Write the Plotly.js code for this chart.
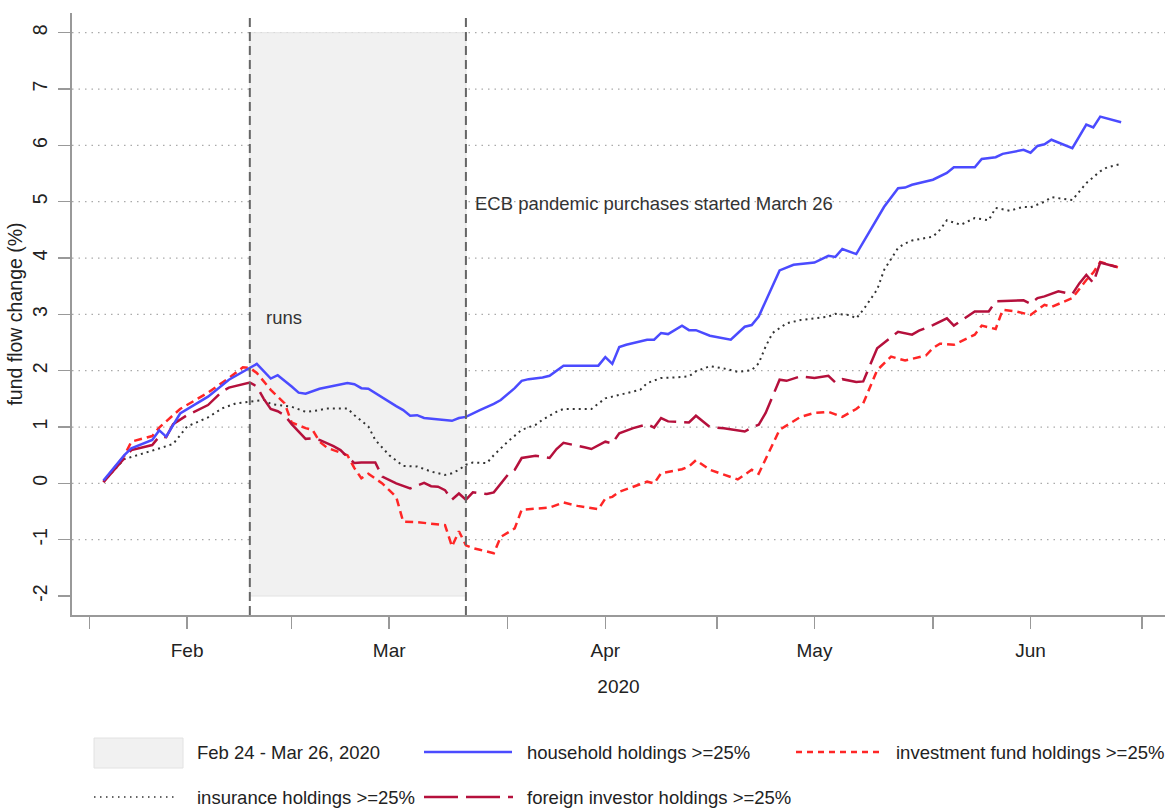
<!DOCTYPE html>
<html>
<head>
<meta charset="utf-8">
<script src="https://cdn.plot.ly/plotly-3.0.1.min.js"></script>
<style>html,body{margin:0;padding:0;background:#fff;}#chart{width:1170px;height:809px;}</style>
</head>
<body>
<div id="chart"></div>
<script>
// ---------------- data ----------------
const householdDates = ["2020-02-03","2020-02-06","2020-02-07","2020-02-10","2020-02-11","2020-02-12","2020-02-14","2020-02-18","2020-02-21","2020-02-24","2020-02-25","2020-02-27","2020-02-28","2020-03-01","2020-03-02","2020-03-03","2020-03-05","2020-03-09","2020-03-10","2020-03-11","2020-03-12","2020-03-16","2020-03-17","2020-03-18","2020-03-19","2020-03-20","2020-03-24","2020-03-25","2020-03-26","2020-03-28","2020-03-30","2020-03-31","2020-04-02","2020-04-03","2020-04-04","2020-04-06","2020-04-07","2020-04-09","2020-04-11","2020-04-14","2020-04-15","2020-04-16","2020-04-17","2020-04-18","2020-04-21","2020-04-22","2020-04-23","2020-04-24","2020-04-26","2020-04-27","2020-04-28","2020-04-30","2020-05-03","2020-05-05","2020-05-06","2020-05-07","2020-05-10","2020-05-12","2020-05-15","2020-05-17","2020-05-18","2020-05-19","2020-05-21","2020-05-25","2020-05-27","2020-05-28","2020-05-29","2020-05-31","2020-06-01","2020-06-03","2020-06-04","2020-06-07","2020-06-08","2020-06-10","2020-06-11","2020-06-14","2020-06-15","2020-06-16","2020-06-17","2020-06-18","2020-06-21","2020-06-23","2020-06-24","2020-06-25","2020-06-28"];
const householdValues = [0.05,0.50,0.62,0.77,0.94,0.83,1.24,1.54,1.84,2.04,2.12,1.86,1.92,1.72,1.61,1.59,1.68,1.78,1.76,1.69,1.68,1.37,1.30,1.20,1.21,1.16,1.11,1.16,1.18,1.30,1.41,1.48,1.69,1.82,1.85,1.88,1.91,2.09,2.09,2.09,2.24,2.12,2.42,2.46,2.55,2.55,2.67,2.65,2.80,2.72,2.72,2.62,2.55,2.78,2.81,2.96,3.78,3.88,3.92,4.04,4.02,4.16,4.07,4.91,5.24,5.25,5.30,5.36,5.39,5.51,5.61,5.61,5.76,5.79,5.85,5.92,5.87,5.99,6.02,6.10,5.95,6.37,6.32,6.51,6.41];

const fundDates = ["2020-02-03","2020-02-06","2020-02-07","2020-02-10","2020-02-11","2020-02-12","2020-02-14","2020-02-18","2020-02-21","2020-02-23","2020-02-24","2020-02-25","2020-02-27","2020-02-29","2020-03-01","2020-03-03","2020-03-04","2020-03-05","2020-03-06","2020-03-07","2020-03-09","2020-03-10","2020-03-11","2020-03-12","2020-03-14","2020-03-16","2020-03-17","2020-03-19","2020-03-21","2020-03-23","2020-03-24","2020-03-25","2020-03-26","2020-03-27","2020-03-28","2020-03-30","2020-03-31","2020-04-02","2020-04-03","2020-04-07","2020-04-09","2020-04-11","2020-04-14","2020-04-15","2020-04-16","2020-04-17","2020-04-21","2020-04-22","2020-04-23","2020-04-26","2020-04-27","2020-04-28","2020-04-30","2020-05-02","2020-05-04","2020-05-06","2020-05-07","2020-05-10","2020-05-13","2020-05-15","2020-05-17","2020-05-19","2020-05-21","2020-05-22","2020-05-24","2020-05-26","2020-05-28","2020-05-31","2020-06-01","2020-06-02","2020-06-04","2020-06-07","2020-06-08","2020-06-10","2020-06-11","2020-06-13","2020-06-15","2020-06-17","2020-06-18","2020-06-21","2020-06-23","2020-06-24","2020-06-25","2020-06-28"];
const fundValues = [0.03,0.49,0.74,0.84,0.99,1.10,1.32,1.61,1.87,2.06,2.05,1.96,1.66,1.42,1.08,0.98,0.95,0.74,0.64,0.59,0.50,0.27,0.09,0.17,0.00,-0.24,-0.68,-0.69,-0.71,-0.74,-1.12,-0.85,-1.10,-1.15,-1.18,-1.24,-0.95,-0.80,-0.47,-0.43,-0.34,-0.40,-0.46,-0.27,-0.24,-0.15,0.03,0.00,0.18,0.25,0.30,0.41,0.24,0.15,0.07,0.24,0.17,0.95,1.18,1.25,1.27,1.18,1.32,1.42,2.01,2.25,2.18,2.27,2.40,2.48,2.46,2.64,2.80,2.74,3.08,3.05,2.99,3.17,3.13,3.29,3.61,3.74,3.93,3.82];

const foreignDates = ["2020-02-03","2020-02-07","2020-02-10","2020-02-11","2020-02-12","2020-02-13","2020-02-15","2020-02-18","2020-02-20","2020-02-21","2020-02-24","2020-02-25","2020-02-26","2020-02-27","2020-02-28","2020-02-29","2020-03-01","2020-03-03","2020-03-04","2020-03-05","2020-03-07","2020-03-08","2020-03-09","2020-03-10","2020-03-11","2020-03-13","2020-03-14","2020-03-16","2020-03-18","2020-03-20","2020-03-21","2020-03-22","2020-03-23","2020-03-24","2020-03-25","2020-03-26","2020-03-27","2020-03-29","2020-03-30","2020-04-01","2020-04-02","2020-04-03","2020-04-05","2020-04-07","2020-04-08","2020-04-09","2020-04-12","2020-04-13","2020-04-15","2020-04-16","2020-04-17","2020-04-19","2020-04-21","2020-04-22","2020-04-23","2020-04-24","2020-04-27","2020-04-28","2020-04-30","2020-05-02","2020-05-05","2020-05-06","2020-05-07","2020-05-08","2020-05-10","2020-05-11","2020-05-13","2020-05-15","2020-05-17","2020-05-18","2020-05-19","2020-05-21","2020-05-22","2020-05-24","2020-05-27","2020-05-29","2020-05-30","2020-06-01","2020-06-03","2020-06-04","2020-06-07","2020-06-09","2020-06-10","2020-06-12","2020-06-14","2020-06-15","2020-06-16","2020-06-17","2020-06-19","2020-06-21","2020-06-22","2020-06-23","2020-06-24","2020-06-25","2020-06-28"];
const foreignValues = [0.02,0.59,0.68,0.83,0.82,1.05,1.21,1.39,1.63,1.70,1.79,1.72,1.50,1.32,1.28,1.21,1.05,0.79,0.80,0.77,0.66,0.59,0.47,0.36,0.37,0.37,0.12,0.00,-0.09,0.01,-0.05,-0.06,-0.12,-0.29,-0.18,-0.29,-0.16,-0.19,-0.16,0.15,0.24,0.45,0.49,0.45,0.61,0.72,0.64,0.61,0.74,0.71,0.89,0.98,1.05,0.99,1.16,1.10,1.08,1.20,1.00,0.98,0.92,0.99,1.04,1.25,1.84,1.82,1.90,1.87,1.91,1.79,1.85,1.80,1.81,2.40,2.69,2.64,2.71,2.81,2.93,2.80,3.05,3.05,3.23,3.24,3.25,3.19,3.29,3.32,3.41,3.36,3.55,3.70,3.56,3.92,3.82];

const insuranceDates = ["2020-02-03","2020-02-06","2020-02-10","2020-02-13","2020-02-15","2020-02-18","2020-02-20","2020-02-22","2020-02-24","2020-02-26","2020-02-27","2020-03-01","2020-03-03","2020-03-05","2020-03-06","2020-03-09","2020-03-10","2020-03-12","2020-03-13","2020-03-15","2020-03-17","2020-03-19","2020-03-21","2020-03-23","2020-03-24","2020-03-25","2020-03-26","2020-03-27","2020-03-29","2020-03-30","2020-04-01","2020-04-03","2020-04-05","2020-04-06","2020-04-08","2020-04-09","2020-04-13","2020-04-15","2020-04-16","2020-04-18","2020-04-20","2020-04-21","2020-04-23","2020-04-25","2020-04-27","2020-04-28","2020-04-30","2020-05-02","2020-05-04","2020-05-06","2020-05-07","2020-05-08","2020-05-09","2020-05-11","2020-05-13","2020-05-15","2020-05-17","2020-05-18","2020-05-20","2020-05-21","2020-05-22","2020-05-24","2020-05-25","2020-05-27","2020-05-28","2020-05-29","2020-06-01","2020-06-02","2020-06-03","2020-06-05","2020-06-07","2020-06-09","2020-06-10","2020-06-12","2020-06-14","2020-06-15","2020-06-17","2020-06-18","2020-06-19","2020-06-21","2020-06-22","2020-06-23","2020-06-25","2020-06-26","2020-06-28"];
const insuranceValues = [0.03,0.43,0.58,0.70,1.01,1.17,1.33,1.42,1.45,1.48,1.41,1.36,1.27,1.30,1.33,1.33,1.21,1.01,0.77,0.50,0.31,0.30,0.21,0.15,0.18,0.24,0.33,0.37,0.36,0.50,0.74,0.95,1.04,1.13,1.27,1.32,1.32,1.51,1.54,1.60,1.66,1.78,1.87,1.88,1.90,1.99,2.08,2.04,1.98,2.01,2.13,2.43,2.67,2.84,2.90,2.93,2.96,3.01,2.99,2.93,3.08,3.44,3.79,4.18,4.26,4.31,4.38,4.50,4.67,4.59,4.71,4.67,4.89,4.84,4.91,4.90,5.00,5.08,5.06,5.03,5.18,5.33,5.54,5.61,5.67];

const periodStart = "2020-02-24";
const periodEnd = "2020-03-26";
const periodLow = -2;
const periodHigh = 8;

const xTickVals = ["2020-02-01","2020-02-15","2020-03-01","2020-03-15","2020-04-01","2020-04-15","2020-05-01","2020-05-15","2020-06-01","2020-06-15","2020-07-01"];
const xTickText = ["","Feb","","Mar","","Apr","","May","","Jun",""];
const yTickVals = [-2,-1,0,1,2,3,4,5,6,7,8];
const yTickText = ["-2","-1","0","1","2","3","4","5","6","7","8"];
const yGridVals = [-1,0,1,2,3,4,5,6,7,8];

const legendLabels = ["Feb 24 - Mar 26, 2020","household holdings >=25%","investment fund holdings >=25%","insurance holdings >=25%","foreign investor holdings >=25%"];

// ---------------- styling ----------------
const FONT = '"Liberation Sans", Arial, sans-serif';
const FS = 18.5;
const TXT = '#222';
const AX = '#999';
const C_HOUSE = '#4b4bff';
const C_FUND = '#ff2626';
const C_FOREIGN = '#b5103c';
const C_INS = '#333333';
const D_FUND = '8px,5px';
const D_FOREIGN = '32px,8px';
const D_INS = '2px,4px';

const W = 1170, H = 809;
const M = {l: 72, r: 5, t: 13, b: 194};
const pw = W - M.l - M.r, ph = H - M.t - M.b;
const px = x => (x - M.l) / pw;
const py = y => (M.t + ph - y) / ph;

const traces = [
  {x: insuranceDates, y: insuranceValues, type: 'scatter', mode: 'lines', name: legendLabels[3],
   line: {color: C_INS, width: 2, dash: D_INS}},
  {x: fundDates, y: fundValues, type: 'scatter', mode: 'lines', name: legendLabels[2],
   line: {color: C_FUND, width: 2.5, dash: D_FUND}},
  {x: foreignDates, y: foreignValues, type: 'scatter', mode: 'lines', name: legendLabels[4],
   line: {color: C_FOREIGN, width: 2.5, dash: D_FOREIGN}},
  {x: householdDates, y: householdValues, type: 'scatter', mode: 'lines', name: legendLabels[1],
   line: {color: C_HOUSE, width: 2.5}}
];

const shapes = [];
// shaded period
shapes.push({type: 'rect', xref: 'x', yref: 'y', x0: periodStart, x1: periodEnd, y0: periodLow, y1: periodHigh,
  fillcolor: '#f1f1f1', line: {color: '#e2e2e2', width: 1}, layer: 'below'});
// dotted grid
yGridVals.forEach(v => shapes.push({type: 'line', xref: 'paper', yref: 'y', x0: 0, x1: 1, y0: v, y1: v,
  line: {color: '#aaaaaa', width: 1.2, dash: '1.5px,5px'}, layer: 'below'}));
// vertical event lines
[periodStart, periodEnd].forEach(d => shapes.push({type: 'line', xref: 'x', yref: 'paper', x0: d, x1: d, y0: 0, y1: 1,
  line: {color: '#666', width: 2, dash: '9px,5px'}, layer: 'above'}));

// manual legend
const row1 = 752, row2 = 797;
shapes.push({type: 'rect', xref: 'paper', yref: 'paper', x0: px(94), x1: px(183), y0: py(768), y1: py(738),
  fillcolor: '#f1f1f1', line: {color: '#e2e2e2', width: 1}});
shapes.push({type: 'line', xref: 'paper', yref: 'paper', x0: px(424), x1: px(512), y0: py(row1), y1: py(row1),
  line: {color: C_HOUSE, width: 2.5}});
shapes.push({type: 'line', xref: 'paper', yref: 'paper', x0: px(796), x1: px(884), y0: py(row1), y1: py(row1),
  line: {color: C_FUND, width: 2.5, dash: '6px,5px'}});
shapes.push({type: 'line', xref: 'paper', yref: 'paper', x0: px(94), x1: px(176), y0: py(row2), y1: py(row2),
  line: {color: C_INS, width: 1.5, dash: '1.5px,4.5px'}});
shapes.push({type: 'line', xref: 'paper', yref: 'paper', x0: px(424), x1: px(513), y0: py(row2), y1: py(row2),
  line: {color: C_FOREIGN, width: 2.5, dash: '34px,8px'}});

const lf = {family: FONT, size: FS, color: TXT};
const ann = [
  {xref: 'x', yref: 'y', x: '2020-02-26', y: 2.95, text: 'runs', showarrow: false, xanchor: 'left', yanchor: 'middle', font: {family: FONT, size: FS, color: '#333'}},
  {xref: 'x', yref: 'y', x: '2020-03-27', y: 4.97, text: 'ECB pandemic purchases started March 26', showarrow: false, xanchor: 'left', yanchor: 'middle', font: {family: FONT, size: FS, color: '#333'}},
  {xref: 'paper', yref: 'paper', x: px(195), y: py(row1), text: legendLabels[0], showarrow: false, xanchor: 'left', yanchor: 'middle', font: lf},
  {xref: 'paper', yref: 'paper', x: px(525), y: py(row1), text: legendLabels[1], showarrow: false, xanchor: 'left', yanchor: 'middle', font: lf},
  {xref: 'paper', yref: 'paper', x: px(894), y: py(row1), text: legendLabels[2], showarrow: false, xanchor: 'left', yanchor: 'middle', font: lf},
  {xref: 'paper', yref: 'paper', x: px(195), y: py(row2), text: legendLabels[3], showarrow: false, xanchor: 'left', yanchor: 'middle', font: lf},
  {xref: 'paper', yref: 'paper', x: px(525), y: py(row2), text: legendLabels[4], showarrow: false, xanchor: 'left', yanchor: 'middle', font: lf}
];

const layout = {
  width: W, height: H, margin: M,
  paper_bgcolor: '#fff', plot_bgcolor: '#fff',
  showlegend: false,
  font: {family: FONT, size: FS, color: TXT},
  xaxis: {
    type: 'date', range: ['2020-01-29 11:45', '2020-07-04 07:00'],
    tickmode: 'array', tickvals: xTickVals, ticktext: xTickText,
    ticks: 'outside', ticklen: 12, tickwidth: 1.5, tickcolor: AX, ticklabelstandoff: 5,
    showline: true, linecolor: AX, linewidth: 2, showgrid: false, zeroline: false,
    tickfont: {family: FONT, size: 19, color: TXT},
    title: {text: '2020', font: {family: FONT, size: 19, color: TXT}, standoff: 20}
  },
  yaxis: {
    range: [-2.337, 8.35], tickmode: 'array', tickvals: yTickVals, ticktext: yTickText, tickangle: -90,
    ticks: 'outside', ticklen: 12, tickwidth: 1.5, tickcolor: AX, ticklabelstandoff: 3,
    showline: true, linecolor: AX, linewidth: 2, showgrid: false, zeroline: false,
    tickfont: {family: FONT, size: 19.5, color: TXT},
    title: {text: 'fund flow change (%)', font: {family: FONT, size: 19.5, color: TXT}}
  },
  shapes: shapes,
  annotations: ann
};

Plotly.newPlot('chart', traces, layout, {displayModeBar: false, staticPlot: true});
</script>
</body>
</html>
